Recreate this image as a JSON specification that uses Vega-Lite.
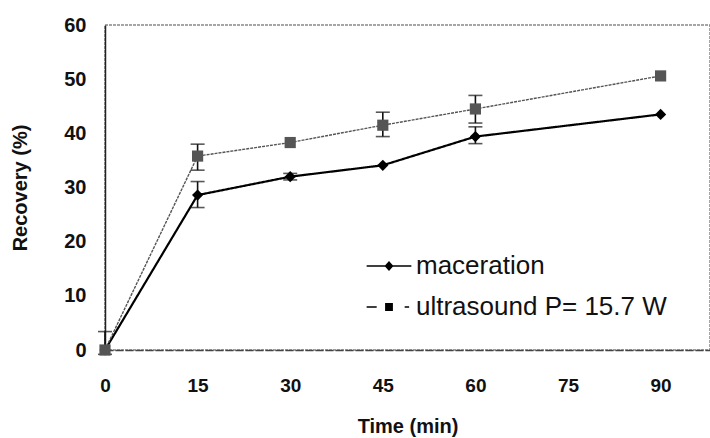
{
  "$schema": "https://vega.github.io/schema/vega-lite/v6.json",
  "autosize": {"type": "none"},
  "padding": {"left": 105, "top": 25, "right": 0, "bottom": 88},
  "width": 605,
  "height": 325,
  "background": "white",
  "config": {
    "font": "Liberation Sans",
    "view": {"stroke": "#888", "strokeWidth": 1.5, "strokeDash": [3, 1]}
  },
  "data": {
    "values": [
      {"series": "maceration", "time": 0, "value": 0, "lo": null, "hi": null},
      {"series": "maceration", "time": 15, "value": 28.6, "lo": 26.3, "hi": 31.1},
      {"series": "maceration", "time": 30, "value": 32.0, "lo": 31.4, "hi": 32.6},
      {"series": "maceration", "time": 45, "value": 34.1, "lo": null, "hi": null},
      {"series": "maceration", "time": 60, "value": 39.4, "lo": 38.1, "hi": 41.2},
      {"series": "maceration", "time": 90, "value": 43.5, "lo": null, "hi": null},
      {"series": "ultrasound P=  15.7 W", "time": 0, "value": 0, "lo": -0.8, "hi": 3.4},
      {"series": "ultrasound P=  15.7 W", "time": 15, "value": 35.8, "lo": 33.2, "hi": 38.0},
      {"series": "ultrasound P=  15.7 W", "time": 30, "value": 38.3, "lo": null, "hi": null},
      {"series": "ultrasound P=  15.7 W", "time": 45, "value": 41.5, "lo": 39.4, "hi": 43.9},
      {"series": "ultrasound P=  15.7 W", "time": 60, "value": 44.5, "lo": 41.9, "hi": 47.0},
      {"series": "ultrasound P=  15.7 W", "time": 90, "value": 50.6, "lo": null, "hi": null}
    ]
  },
  "encoding": {
    "x": {
      "field": "time", "type": "quantitative",
      "scale": {"domain": [0, 98], "nice": false, "zero": false},
      "axis": {
        "values": [0, 15, 30, 45, 60, 75, 90],
        "title": "Time (min)",
        "titleFont": "Liberation Sans", "titleFontSize": 20, "titleFontWeight": "bold", "titleColor": "#111",
        "titlePadding": 21,
        "labelFont": "Liberation Sans", "labelFontSize": 19, "labelFontWeight": "bold", "labelColor": "#111",
        "labelPadding": 26, "labelFlush": false,
        "ticks": false, "grid": false,
        "domainColor": "#444", "domainWidth": 1.5, "domainDash": [8, 2]
      }
    },
    "y": {
      "field": "value", "type": "quantitative",
      "scale": {"domain": [0, 60], "nice": false},
      "axis": {
        "values": [0, 10, 20, 30, 40, 50, 60],
        "title": "Recovery (%)",
        "titleFont": "Liberation Sans", "titleFontSize": 20, "titleFontWeight": "bold", "titleColor": "#111",
        "titlePadding": 33,
        "labelFont": "Liberation Sans", "labelFontSize": 20, "labelFontWeight": "bold", "labelColor": "#111",
        "labelPadding": 19, "labelFlush": false,
        "ticks": false, "grid": false,
        "domainColor": "#222", "domainWidth": 1.5
      }
    }
  },
  "layer": [
    {
      "mark": {"type": "line"},
      "encoding": {
        "color": {"field": "series", "type": "nominal", "scale": {"range": ["#000000", "#555555"]}, "legend": null},
        "strokeDash": {"field": "series", "type": "nominal", "scale": {"range": [[1, 0], [3, 1]]}, "legend": null},
        "size": {"field": "series", "type": "nominal", "scale": {"range": [2.2, 1.4]}, "legend": null}
      }
    },
    {
      "transform": [{"filter": "datum.lo != null"}],
      "mark": {"type": "errorbar", "ticks": {"size": 14, "color": "#111"}, "thickness": 1.6, "color": "#111"},
      "encoding": {
        "y": {"field": "lo", "type": "quantitative"},
        "y2": {"field": "hi"}
      }
    },
    {
      "mark": {"type": "point", "filled": true, "opacity": 1, "size": 125},
      "encoding": {
        "shape": {"field": "series", "type": "nominal", "scale": {"range": ["diamond", "square"]}, "legend": null},
        "color": {"field": "series", "type": "nominal", "legend": null}
      }
    },
    {
      "mark": {"type": "point", "filled": true, "opacity": 0, "size": 500, "color": "black"},
      "encoding": {
        "shape": {
          "field": "series", "type": "nominal",
          "scale": {"range": [
            "M-2,-0.07H2V0.07H-2ZM0,-0.45L0.4,0L0,0.45L-0.4,0Z",
            "M-2,-0.06H-1.1V0.06H-2ZM1.4,-0.06H1.8V0.06H1.4ZM-0.35,-0.35H0.35V0.35H-0.35Z"
          ]},
          "legend": {
            "orient": "none", "legendX": 271, "legendY": 228,
            "title": null,
            "symbolSize": 500, "symbolOpacity": 1, "symbolFillColor": "black", "symbolStrokeColor": "black", "symbolStrokeWidth": 0,
            "labelFont": "Liberation Sans", "labelFontSize": 26, "labelColor": "#111", "labelOffset": 14,
            "rowPadding": 15, "labelLimit": 400,
            "encode": {"symbols": {"update": {"fill": {"value": "black"}, "opacity": {"value": 1}}}}
          }
        }
      }
    }
  ],
  "resolve": {"scale": {"shape": "independent", "size": "independent"}, "legend": {"shape": "independent"}}
}
